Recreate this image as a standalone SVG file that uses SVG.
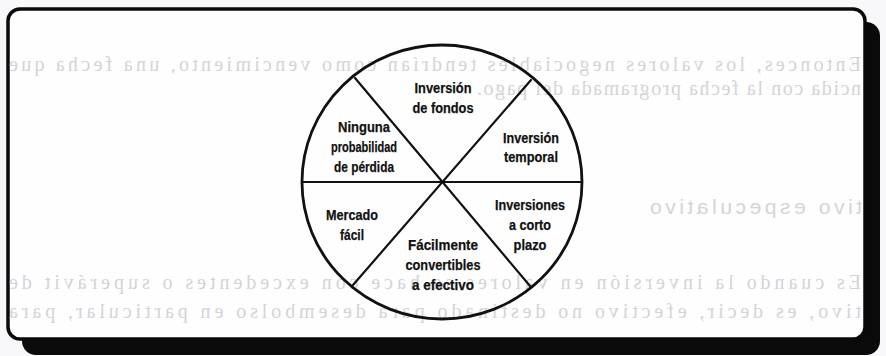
<svg xmlns="http://www.w3.org/2000/svg" width="886" height="356" viewBox="0 0 886 356">
<style>
.bleed{font-family:"Liberation Serif","Times New Roman",serif;font-size:20px;fill:#d4d4d7}
.bleedh{font-family:"Liberation Sans",Arial,sans-serif;font-size:21px;fill:#d4d4d7}
.lbl{font-family:"Liberation Sans",Arial,sans-serif;font-weight:bold;font-size:15px;fill:#111;text-anchor:middle;stroke:#111;stroke-width:0.25}
.ln{stroke:#111;stroke-width:2.2;fill:none;stroke-linecap:round}
</style>
<rect x="0" y="0" width="886" height="356" fill="#f8f7f9"/>
<rect x="22" y="22" width="858" height="333" rx="14" fill="#0a0a0a"/>
<rect x="8" y="9" width="857" height="330" rx="12" fill="#fefefe" stroke="#0a0a0a" stroke-width="3.5"/>
<g id="bleed-through">
<text class="bleed" transform="translate(861,0) scale(-1,1)" x="0" y="71" textLength="852" lengthAdjust="spacing">Entonces, los valores negociables tendrían como vencimiento, una fecha que</text>
<text class="bleed" transform="translate(861,0) scale(-1,1)" x="0" y="95" textLength="384" lengthAdjust="spacing">ncida con la fecha programada del pago.</text>
<text class="bleedh" transform="translate(862,0) scale(-1,1)" x="0" y="214" textLength="212" lengthAdjust="spacing">tivo especulativo</text>
<text class="bleed" transform="translate(861,0) scale(-1,1)" x="0" y="289" textLength="852" lengthAdjust="spacing">Es cuando la inversión en valores se hace con excedentes o superávit de</text>
<text class="bleed" transform="translate(861,0) scale(-1,1)" x="0" y="318" textLength="852" lengthAdjust="spacing">tivo, es decir, efectivo no destinado para desembolso en particular, para</text>
</g>
<g id="connectors">
<ellipse cx="442" cy="182" rx="140" ry="137" fill="none" stroke="#111" stroke-width="2.8"/>
<line class="ln" x1="302" y1="182" x2="582" y2="182"/>
<line class="ln" x1="355" y1="78" x2="530" y2="286"/>
<line class="ln" x1="531" y1="80" x2="353" y2="285"/>
</g>
<g id="inversion-fondos">
<text class="lbl" x="443" y="93" textLength="57" lengthAdjust="spacingAndGlyphs">Inversión</text>
<text class="lbl" x="443" y="113" textLength="61" lengthAdjust="spacingAndGlyphs">de fondos</text>
</g>
<g id="inversion-temporal">
<text class="lbl" x="531" y="143" textLength="56" lengthAdjust="spacingAndGlyphs">Inversión</text>
<text class="lbl" x="531" y="162" textLength="54" lengthAdjust="spacingAndGlyphs">temporal</text>
</g>
<g id="inversiones-corto-plazo">
<text class="lbl" x="530" y="210" textLength="70" lengthAdjust="spacingAndGlyphs">Inversiones</text>
<text class="lbl" x="530" y="230" textLength="42" lengthAdjust="spacingAndGlyphs">a corto</text>
<text class="lbl" x="530" y="250" textLength="33" lengthAdjust="spacingAndGlyphs">plazo</text>
</g>
<g id="facilmente-convertibles">
<text class="lbl" x="443" y="250" textLength="70" lengthAdjust="spacingAndGlyphs">Fácilmente</text>
<text class="lbl" x="443" y="270" textLength="75" lengthAdjust="spacingAndGlyphs">convertibles</text>
<text class="lbl" x="443" y="290" textLength="62" lengthAdjust="spacingAndGlyphs">a efectivo</text>
</g>
<g id="mercado-facil">
<text class="lbl" x="352" y="220" textLength="52" lengthAdjust="spacingAndGlyphs">Mercado</text>
<text class="lbl" x="352" y="240" textLength="24" lengthAdjust="spacingAndGlyphs">fácil</text>
</g>
<g id="ninguna-probabilidad">
<text class="lbl" x="364" y="132" textLength="52" lengthAdjust="spacingAndGlyphs">Ninguna</text>
<text class="lbl" x="364" y="152" textLength="66" lengthAdjust="spacingAndGlyphs">probabilidad</text>
<text class="lbl" x="364" y="172" textLength="60" lengthAdjust="spacingAndGlyphs">de pérdida</text>
</g>
</svg>
